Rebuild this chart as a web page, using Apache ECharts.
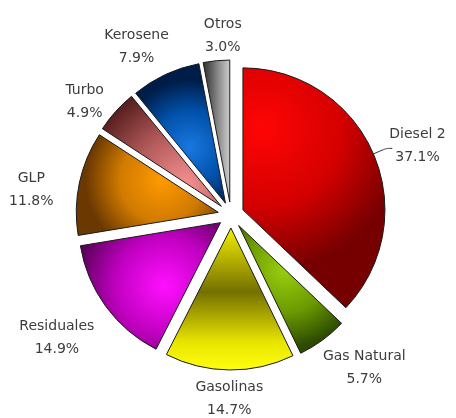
<!DOCTYPE html>
<html>
<head>
<meta charset="utf-8">
<script src="https://cdn.jsdelivr.net/npm/echarts@6/dist/echarts.min.js"></script>
<style>
html,body{margin:0;padding:0;background:#fff;}
#chart{width:456px;height:418px;}
</style>
</head>
<body>
<div id="chart"></div>
<script>
var categories = ['Diesel 2', 'Gas Natural', 'Gasolinas', 'Residuales', 'GLP', 'Turbo', 'Kerosene', 'Otros'];
var shares = [37.1, 5.7, 14.7, 14.9, 11.8, 4.9, 7.9, 3.0];

function radial(cx, cy, r, c0, c1, c2) {
  return {type: 'radial', x: cx, y: cy, r: r, colorStops: [
    {offset: 0, color: c0}, {offset: 0.55, color: c1}, {offset: 1, color: c2}]};
}
var fills = [
  radial(0.15, 0.25, 1.0, '#ff0505', '#d40000', '#760000'),
  radial(0.45, 0.35, 0.75, '#9acd10', '#6a9a00', '#2c4a00'),
  {type: 'linear', x: 0, y: 0, x2: 0, y2: 1, colorStops: [
    {offset: 0, color: '#f4f000'}, {offset: 0.45, color: '#747000'}, {offset: 0.8, color: '#e8e400'}, {offset: 1, color: '#ffff10'}]},
  radial(0.6, 0.5, 0.7, '#ff10ff', '#c000c0', '#5a005a'),
  radial(0.6, 0.45, 0.75, '#ff9a00', '#d07a00', '#6a3800'),
  radial(0.7, 0.8, 0.9, '#f59090', '#b05858', '#5a2020'),
  radial(0.6, 0.6, 0.75, '#1a78e0', '#0050a8', '#001c48'),
  {type: 'linear', x: 0, y: 0, x2: 1, y2: 0, colorStops: [
    {offset: 0, color: '#2a2a2a'}, {offset: 0.5, color: '#808080'}, {offset: 1, color: '#d0d0d0'}]}
];
var lineLens = [14, 42, 27, 57, 46, 31, 40, 28];
var labelNudgeX = [-6, 14, 3, 0, 0, -5, -9, 12];
var labelNudgeY = [-3, -6, 2, -2, 16, 11, 9, 3];

var data = categories.map(function (name, i) {
  return {
    name: name,
    value: shares[i],
    selected: true,
    itemStyle: {color: fills[i]},
    labelLine: {show: i === 0, length: lineLens[i], length2: i === 0 ? 6 : 0, smooth: i === 0}
  };
});

var chart = echarts.init(document.getElementById('chart'), null, {renderer: 'canvas'});
chart.setOption({
  backgroundColor: '#ffffff',
  animation: false,
  series: [{
    type: 'pie',
    center: [231, 215],
    radius: [0, 142],
    startAngle: 90,
    clockwise: true,
    selectedMode: 'multiple',
    selectedOffset: 13,
    avoidLabelOverlap: false,
    itemStyle: {borderColor: '#1a1a1a', borderWidth: 1},
    emphasis: {disabled: true},
    label: {
      show: true,
      position: 'outside',
      formatter: function (p) { return p.name + '\n' + p.value.toFixed(1) + '%'; },
      fontFamily: 'DejaVu Sans, sans-serif',
      fontSize: 14,
      lineHeight: 23,
      color: '#3c3c3c',
      distanceToLabelLine: 3
    },
    labelLine: {lineStyle: {color: '#333', width: 1}},
    labelLayout: function (p) {
      var i = p.dataIndex;
      if (i === 0) {
        return {align: 'center', verticalAlign: 'middle', dx: p.labelRect.width / 2 + labelNudgeX[i], dy: labelNudgeY[i]};
      }
      return {align: 'center', verticalAlign: 'middle', dx: labelNudgeX[i], dy: labelNudgeY[i]};
    },
    data: data
  }]
});
</script>
</body>
</html>
